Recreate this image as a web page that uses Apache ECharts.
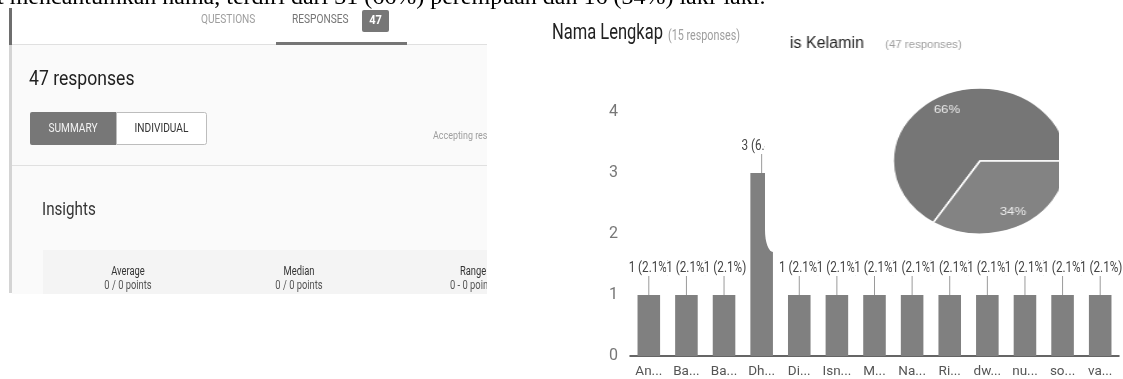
<!DOCTYPE html>
<html>
<head>
<meta charset="UTF-8">
<script src="https://cdn.jsdelivr.net/npm/echarts@6/dist/echarts.min.js"></script>
<style>
    body {margin: 0; background: #fff;}
    #main {position: absolute; left: 0; top: 0; width: 1123px; height: 379px;}
    #cover {position: absolute; left: 765px; top: 14px; width: 294px; height: 238px; background: #fff;
            overflow: hidden; border-bottom-left-radius: 8px 22px;}
    #pie {position: absolute; left: 0; top: 0; width: 294px; height: 238px;
          transform: scaleX(1.19); transform-origin: 215px 147px;}
</style>
</head>
<body>
<div id="main"></div>
<div id="cover"><div id="pie"></div></div>
<script type="text/javascript">
    // bar chart: Nama Lengkap
    var names = ['An...', 'Ba...', 'Ba...', 'Dh...', 'Di...', 'Isn...', 'M...', 'Na...', 'Ri...', 'dw...', 'nu...', 'so...', 'va...'];
    var counts = [1, 1, 1, 3, 1, 1, 1, 1, 1, 1, 1, 1, 1];
    var totalResp = 47;
    var yMin = 0, yMax = 4, yStep = 1;

    // pie chart: Jenis Kelamin
    var genderNames = ['Perempuan', 'Laki-laki'];
    var genderCounts = [31, 16];
    var pieColors = ['#767676', '#838383'];

    var NARROW = 'Roboto, sans-serif';
    var SQUEEZE = 0.78;   // the screenshot text is squashed sideways

    function T(x, y, s, size, color, o) {
        o = o || {};
        return {
            type: 'text', x: x, y: y, scaleX: o.sx || (o.f ? 1 : SQUEEZE), z: o.z || 10,
            style: {
                text: s, fill: color,
                font: (o.w || 'normal') + ' ' + size + 'px ' + (o.f || NARROW),
                textAlign: o.a || 'left', textVerticalAlign: 'middle'
            }
        };
    }
    function R(x, y, w, h, fill, o) {
        o = o || {};
        return {
            type: 'rect', z: o.z || 5,
            shape: {x: x, y: y, width: w, height: h, r: o.r || 0},
            style: {fill: fill, stroke: o.stroke || null, lineWidth: o.lw || 1}
        };
    }
    function L(x1, y1, x2, y2, color, w) {
        return {type: 'line', z: 6, shape: {x1: x1, y1: y1, x2: x2, y2: y2}, style: {stroke: color, lineWidth: w || 1}};
    }

    var els = [
        // sentence cut off at the top
        T(-3, -2, 't mencantumkan nama, terdiri dari 31 (66%) perempuan dan 16 (34%) laki-laki.', 24, '#000',
            {f: '"Liberation Serif", serif'}),
        // forms panel
        R(12, 12, 475, 282, '#fafafa', {z: 1}),
        R(12, 12, 475, 32, '#ffffff', {z: 2}),
        L(12, 44.5, 487, 44.5, '#e0e0e0', 1),
        R(9, 8, 3, 37, '#6e6e6e'),
        R(9, 45, 3, 248, '#d4d4d4'),
        T(201, 20, 'QUESTIONS', 13, '#9e9e9e'),
        T(292, 20, 'RESPONSES', 13, '#757575'),
        R(362, 10, 27, 22, '#777777', {r: 2}),
        T(375.5, 21, '47', 13, '#ffffff', {a: 'center', w: 'bold', sx: 0.85}),
        R(276, 42, 131, 3, '#757575', {z: 7}),
        T(29, 80, '47 responses', 20, '#212121', {sx: 0.88}),
        R(30, 112, 86, 33, '#777777', {r: [2, 0, 0, 2]}),
        R(116.5, 112.5, 90, 32, '#ffffff', {r: [0, 2, 2, 0], stroke: '#bdbdbd'}),
        T(73, 128.5, 'SUMMARY', 13, '#f2f2f2', {a: 'center'}),
        T(161.5, 128.5, 'INDIVIDUAL', 13, '#333', {a: 'center'}),
        T(433, 136, 'Accepting responses', 10.5, '#9e9e9e', {sx: 0.85}),
        L(12, 165.5, 487, 165.5, '#e0e0e0', 1),
        T(42, 210, 'Insights', 19, '#333', {sx: 0.8}),
        R(43, 250, 444, 44, '#f4f4f4', {z: 3}),
        T(128, 272, 'Average', 12, '#333', {a: 'center'}),
        T(128, 286, '0 / 0 points', 12, '#555', {a: 'center'}),
        T(299, 272, 'Median', 12, '#333', {a: 'center'}),
        T(299, 286, '0 / 0 points', 12, '#555', {a: 'center'}),
        T(473, 272, 'Range', 12, '#333', {a: 'center'}),
        T(473, 286, '0 - 0 points', 12, '#555', {a: 'center'}),
        R(487, 10, 58, 290, '#ffffff', {z: 20}),
        // bar chart title
        T(552, 33, 'Nama Lengkap', 22, '#212121', {sx: 0.75}),
        T(668, 36, '(15 responses)', 14, '#9e9e9e', {sx: 0.77})
    ];

    function renderLead(params, api) {
        var v = api.value(1);
        var p = api.coord([api.value(0), v]);
        var txt = v + ' (' + (v / totalResp * 100).toFixed(1) + '%)';
        return {
            type: 'group',
            children: [
                {type: 'line', shape: {x1: p[0], y1: p[1], x2: p[0], y2: p[1] - 19}, style: {stroke: '#9a9a9a', lineWidth: 1}},
                {type: 'text', x: p[0] + 1, y: p[1] - 27, scaleX: 0.78,
                    style: {text: txt, fill: '#444', font: '15px ' + NARROW, textAlign: 'center',
                        textVerticalAlign: 'middle', backgroundColor: '#fff'}}
            ]
        };
    }

    var chart = echarts.init(document.getElementById('main'));
    chart.setOption({
        animation: false,
        grid: {left: 630, top: 112, width: 489, height: 245},
        xAxis: {
            type: 'category', data: names,
            axisLine: {lineStyle: {color: '#333', width: 1.5}},
            axisTick: {show: false},
            axisLabel: {color: '#555', fontSize: 13.5, fontFamily: NARROW, margin: 9, interval: 0}
        },
        yAxis: {
            type: 'value', min: yMin, max: yMax, interval: yStep,
            splitLine: {show: false},
            axisLabel: {color: '#777', fontSize: 16, fontFamily: NARROW, margin: 12}
        },
        series: [
            {type: 'bar', data: counts, barWidth: '60%', itemStyle: {color: '#808080'}, silent: true},
            {type: 'custom', renderItem: renderLead, data: counts.map(function (v, i) { return [i, v]; }), z: 3, silent: true}
        ],
        graphic: els
    });

    // pie, drawn stretched sideways like the screenshot
    var sx = 1.19;
    function px(screenX) { return 215 + (screenX - 765 - 215) / sx; }
    var pieData = genderNames.map(function (n, i) { return {name: n, value: genderCounts[i]}; });
    var pie = echarts.init(document.getElementById('pie'));
    pie.setOption({
        animation: false,
        color: pieColors,
        series: [
            {
                type: 'pie', center: [215, 147], radius: [0, 73], startAngle: 0, clockwise: false,
                data: pieData, silent: true,
                label: {show: false}, labelLine: {show: false},
                itemStyle: {borderColor: '#fff', borderWidth: 1.5}
            },
            {
                type: 'pie', center: [215, 147], radius: [36.5, 73], startAngle: 0, clockwise: false,
                data: pieData, silent: true, percentPrecision: 0,
                itemStyle: {color: 'transparent'},
                label: {show: true, position: 'inside', formatter: '{d}%', color: '#eeeeee',
                    fontSize: 11, fontFamily: '"Liberation Sans", Arial, sans-serif', textBorderWidth: 0},
                labelLine: {show: false}
            }
        ],
        graphic: [
            T(px(790), 30, 'is Kelamin', 16, '#222', {sx: 1 / sx, f: '"Liberation Sans", Arial, sans-serif'}),
            T(px(885), 31, '(47 responses)', 11.5, '#9e9e9e', {sx: 1 / sx, f: '"Liberation Sans", Arial, sans-serif'})
        ]
    });
</script>
</body>
</html>
